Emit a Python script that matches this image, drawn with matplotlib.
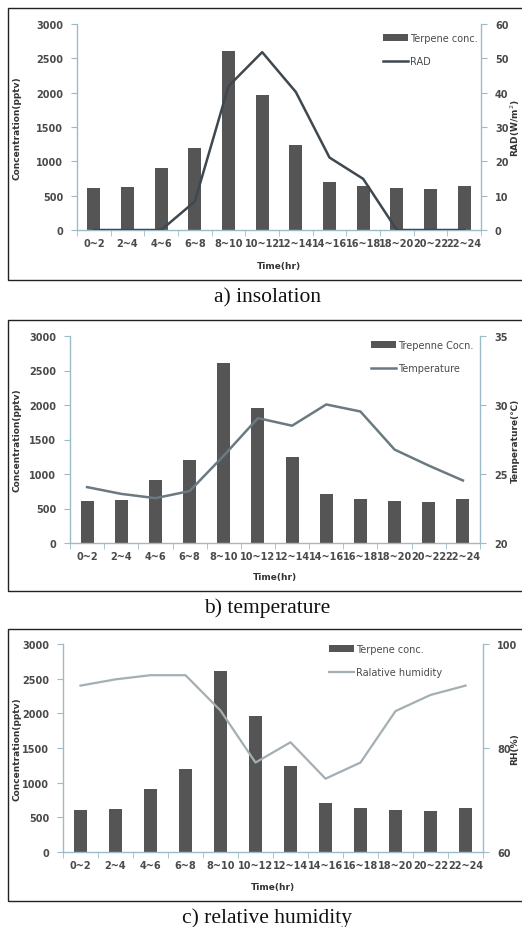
import matplotlib
matplotlib.use("Agg")
import matplotlib.pyplot as plt
from matplotlib.patches import Rectangle
import numpy as np

categories = ["0~2", "2~4", "4~6", "6~8", "8~10", "10~12", "12~14", "14~16",
              "16~18", "18~20", "20~22", "22~24"]
terpene = [610, 620, 910, 1200, 2610, 1960, 1240, 705, 640, 610, 590, 640]
rad = [0, 0, 0, 8.3, 41.9, 51.8, 40.2, 21.1, 14.9, 0, 0, 0]
temperature = [24.05, 23.56, 23.25, 23.76, 26.33, 29.05, 28.5, 30.04, 29.53, 26.77, 25.61, 24.53]
humidity = [92.0, 93.2, 94.0, 94.0, 87.2, 77.2, 81.1, 74.1, 77.2, 87.1, 90.2, 92.0]

W, H = 522, 928
fig = plt.figure(figsize=(W / 100, H / 100), dpi=100)
fig.patch.set_facecolor("white")

AX_COL = "#9dbac8"
TXT = "#4a4a4a"
BAR_COL = "#555555"


def fbox(l, t, r, b):
    return [l / W, 1 - b / H, (r - l) / W, (b - t) / H]


panels = [
    dict(frame=(8, 9, 600, 281), ax=(77, 25, 481, 231), cap_y=298, caption="a) insolation",
         bar_label="Terpene conc.", line_label="RAD", line=rad, ylim2=(0, 60), yt2=np.arange(0, 61, 10),
         ylab2="RAD(W/m$^2$)", lcol="#3e4850", lw=1.8, xlab_y=266, leg=(383, 34)),
    dict(frame=(8, 321, 600, 592), ax=(70, 337, 480, 544), cap_y=608, caption="b) temperature",
         bar_label="Trepenne Cocn.", line_label="Temperature", line=temperature, ylim2=(20, 35),
         yt2=np.arange(20, 36, 5), ylab2="Temperature(\u2103)", lcol="#6a7a80", lw=1.8,
         xlab_y=578, leg=(371, 341)),
    dict(frame=(8, 630, 600, 902), ax=(63, 645, 483, 853), cap_y=918, caption="c) relative humidity",
         bar_label="Terpene conc.", line_label="Ralative humidity", line=humidity, ylim2=(60, 100),
         yt2=np.arange(60, 101, 20), ylab2="RH(%)", lcol="#a3afb3", lw=1.6,
         xlab_y=888, leg=(329, 645)),
]

x = np.arange(len(categories))

for p in panels:
    l, t, r, b = p["frame"]
    fig.patches.append(Rectangle((l / W, 1 - b / H), (r - l) / W, (b - t) / H,
                                 transform=fig.transFigure, fill=False,
                                 edgecolor="#222222", linewidth=1.0))
    ax = fig.add_axes(fbox(*p["ax"]))
    ax.set_facecolor("none")
    bars = ax.bar(x, terpene, width=0.38, color=BAR_COL, label=p["bar_label"], zorder=2)
    ax.set_xlim(-0.5, len(categories) - 0.5)
    ax.set_ylim(0, 3000)
    ax.set_yticks(np.arange(0, 3001, 500))
    ax.set_xticks(x)
    ax.set_xticklabels(categories)
    ax.set_xticks(np.arange(-0.5, len(categories), 1), minor=True)
    ax.tick_params(axis="x", which="major", length=0, pad=6, labelsize=7, labelcolor=TXT)
    ax.tick_params(axis="x", which="minor", length=4, color=AX_COL, direction="out")
    ax.tick_params(axis="y", length=4, color=AX_COL, labelsize=7, labelcolor=TXT, pad=6)
    for lab in ax.get_xticklabels() + ax.get_yticklabels():
        lab.set_fontweight("bold")
    for s in ["top", "right"]:
        ax.spines[s].set_visible(False)
    for s in ["left", "bottom"]:
        ax.spines[s].set_color(AX_COL)
        ax.spines[s].set_linewidth(1.0)

    ax2 = ax.twinx()
    ln, = ax2.plot(x, p["line"], color=p["lcol"], linewidth=p["lw"], label=p["line_label"], zorder=3)
    ax2.set_ylim(*p["ylim2"])
    ax2.set_yticks(p["yt2"])
    ax2.tick_params(axis="y", length=4, color=AX_COL, labelsize=7, labelcolor=TXT, pad=6)
    for lab in ax2.get_yticklabels():
        lab.set_fontweight("bold")
    for s in ["top", "left", "bottom"]:
        ax2.spines[s].set_visible(False)
    ax2.spines["right"].set_color(AX_COL)
    ax2.spines["right"].set_linewidth(1.0)

    lx, ly = p["leg"]
    ax2.legend([bars, ln], [p["bar_label"], p["line_label"]], loc="upper left",
               bbox_to_anchor=(lx / W, 1 - ly / H), bbox_transform=fig.transFigure,
               frameon=False, fontsize=7, labelcolor=TXT,
               handlelength=2.6, handleheight=0.7, handletextpad=0.15, labelspacing=1.35,
               borderpad=0, borderaxespad=0)

    al, at, ar, ab = p["ax"]
    fig.text(17 / W, 1 - ((at + ab) / 2) / H, "Concentration(pptv)", rotation=90,
             ha="center", va="center", fontsize=6.5, fontweight="bold", color="#333333")
    fig.text(515 / W, 1 - ((at + ab) / 2) / H, p["ylab2"], rotation=90,
             ha="center", va="center", fontsize=6.5, fontweight="bold", color="#333333")
    fig.text(((al + ar) / 2) / W, 1 - p["xlab_y"] / H, "Time(hr)", ha="center", va="center",
             fontsize=6.5, fontweight="bold", color="#333333")
    fig.text(267 / W, 1 - p["cap_y"] / H, p["caption"], ha="center", va="center",
             fontsize=15.5, family="Liberation Serif", color="#111111")

fig.savefig("out.png", dpi=100, facecolor="white")
